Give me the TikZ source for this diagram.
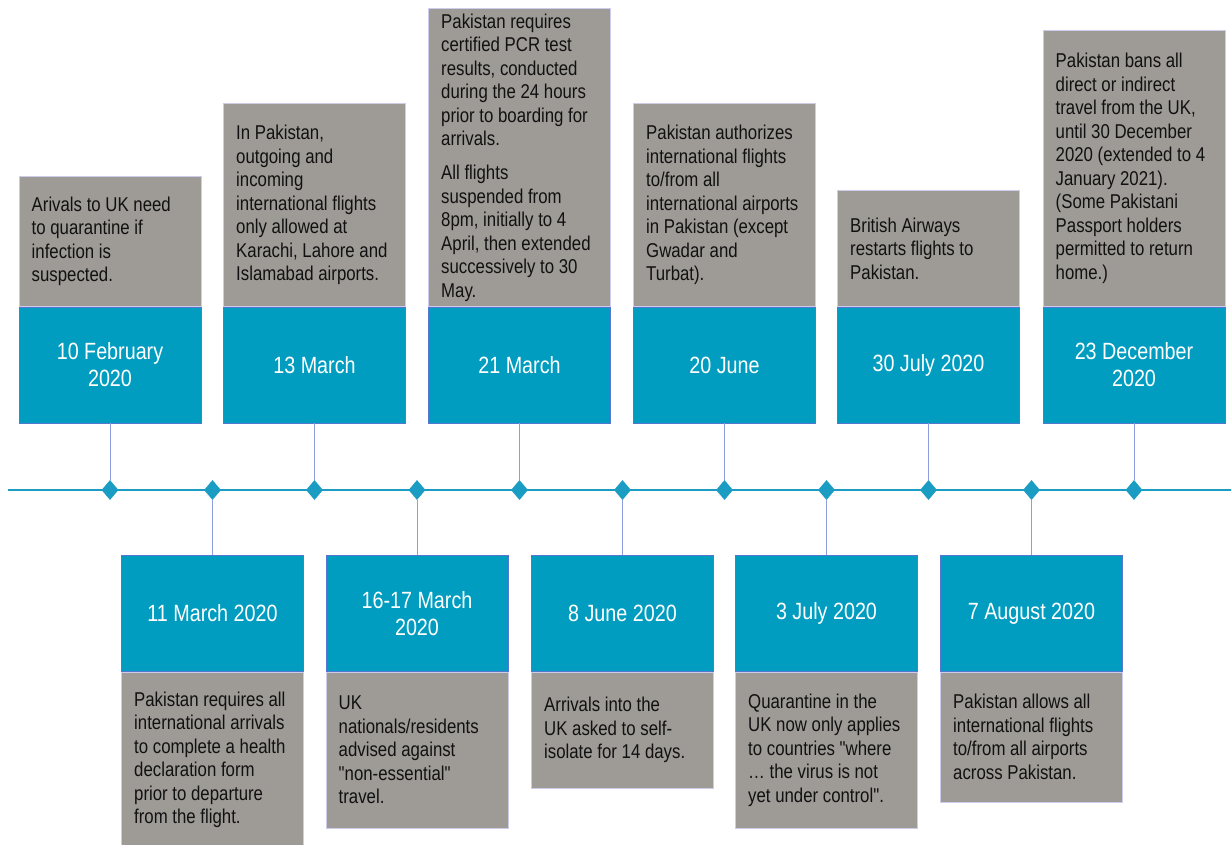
\documentclass[tikz,border=0pt]{standalone}
\usepackage{fontspec}
\setmainfont{Liberation Sans}[FakeStretch=0.84,Ligatures=TeXOff]
\usetikzlibrary{shapes.geometric}
\definecolor{tlblue}{HTML}{009DC0}
\definecolor{tlgrey}{HTML}{9E9B96}
\definecolor{tlline}{HTML}{1A9CC3}
\definecolor{bborder}{HTML}{5577D2}
\definecolor{gborder}{HTML}{CDCDEB}
\definecolor{connc}{HTML}{8C9DE0}
\definecolor{txt}{HTML}{111111}
\tikzset{
  datebox/.style={minimum width=182, minimum height=116, inner sep=0, fill=tlblue, draw=bborder, line width=0.8pt, text=white, align=center, font=\fontsize{23.5}{27}\selectfont},
  infobox/.style={minimum width=182, inner sep=0, fill=tlgrey, draw=gborder, line width=1pt},
  infotext/.style={anchor=west, inner sep=0, align=left, text=txt, font=\fontsize{20}{23.5}\selectfont},
  dia/.style={diamond, fill=tlline, inner sep=0, minimum width=17, minimum height=20},
  conn/.style={draw=connc, line width=1pt},
  tl/.style={draw=tlline, line width=2pt}
}
\begin{document}
\begin{tikzpicture}[x=1pt,y=-1pt]
\useasboundingbox[fill=white] (0,0) rectangle (1231,845);
% timeline
\coordinate (L) at (8,490);
\coordinate (R) at (1231,490);
\draw[tl] (L) -- (R);

% ---------- top events ----------
% A
\node[infobox, minimum height=130, anchor=south] (iA) at (110,307) {};
\node[infotext] (tA) at ([xshift=13]iA.west) {Arivals to UK need\\to quarantine if\\infection is\\suspected.};
\node[datebox] (dA) at (110,365) {10 February\\2020};
\node[dia] (mA) at (110,490) {};
\draw[conn] (dA.south) -- (mA.north);
% B
\node[infobox, minimum height=203, anchor=south] (iB) at (314.5,307) {};
\node[infotext] (tB) at ([xshift=13]iB.west) {In Pakistan,\\outgoing and\\incoming\\international flights\\only allowed at\\Karachi, Lahore and\\Islamabad airports.};
\node[datebox] (dB) at (314.5,365) {13 March};
\node[dia] (mB) at (314.5,490) {};
\draw[conn] (dB.south) -- (mB.north);
% C
\node[infobox, minimum height=298, anchor=south] (iC) at (519.5,307) {};
\node[infotext] (tC) at ([xshift=13]iC.west) {Pakistan requires\\certified PCR test\\results, conducted\\during the 24 hours\\prior to boarding for\\arrivals.\\[10.5pt]All flights\\suspended from\\8pm, initially to 4\\April, then extended\\successively to 30\\May.};
\node[datebox] (dC) at (519.5,365) {21 March};
\node[dia] (mC) at (519.5,490) {};
\draw[conn] (dC.south) -- (mC.north);
% D
\node[infobox, minimum height=203, anchor=south] (iD) at (724.5,307) {};
\node[infotext] (tD) at ([xshift=13]iD.west) {Pakistan authorizes\\international flights\\to/from all\\international airports\\in Pakistan (except\\Gwadar and\\Turbat).};
\node[datebox] (dD) at (724.5,365) {20 June};
\node[dia] (mD) at (724.5,490) {};
\draw[conn] (dD.south) -- (mD.north);
% E
\node[infobox, minimum height=116, anchor=south] (iE) at (928.5,307) {};
\node[infotext] (tE) at ([xshift=13]iE.west) {British Airways\\restarts flights to\\Pakistan.};
\node[datebox] (dE) at (928.5,365) {30 July 2020};
\node[dia] (mE) at (928.5,490) {};
\draw[conn] (dE.south) -- (mE.north);
% F
\node[infobox, minimum height=276, anchor=south] (iF) at (1134,307) {};
\node[infotext] (tF) at ([xshift=13]iF.west) {Pakistan bans all\\direct or indirect\\travel from the UK,\\until 30 December\\2020 (extended to 4\\January 2021).\\(Some Pakistani\\Passport holders\\permitted to return\\home.)};
\node[datebox] (dF) at (1134,365) {23 December\\2020};
\node[dia] (mF) at (1134,490) {};
\draw[conn] (dF.south) -- (mF.north);

% ---------- bottom events ----------
% G
\node[infobox, minimum height=176, anchor=north] (iG) at (212.5,671.5) {};
\node[infotext] (tG) at ([xshift=13]iG.west) {Pakistan requires all\\international arrivals\\to complete a health\\declaration form\\prior to departure\\from the flight.};
\node[datebox] (dG) at (212.5,613.5) {11 March 2020};
\node[dia] (mG) at (212.5,490) {};
\draw[conn] (mG.south) -- (dG.north);
% H
\node[infobox, minimum height=156, anchor=north] (iH) at (417,671.5) {};
\node[infotext] (tH) at ([xshift=13]iH.west) {UK\\nationals/residents\\advised against\\"non-essential"\\travel.};
\node[datebox] (dH) at (417,613.5) {16-17 March\\2020};
\node[dia] (mH) at (417,490) {};
\draw[conn] (mH.south) -- (dH.north);
% I
\node[infobox, minimum height=116, anchor=north] (iI) at (622.5,671.5) {};
\node[infotext] (tI) at ([xshift=13]iI.west) {Arrivals into the\\UK asked to self-\\isolate for 14 days.};
\node[datebox] (dI) at (622.5,613.5) {8 June 2020};
\node[dia] (mI) at (622.5,490) {};
\draw[conn] (mI.south) -- (dI.north);
% J
\node[infobox, minimum height=156, anchor=north] (iJ) at (826.5,671.5) {};
\node[infotext] (tJ) at ([xshift=13]iJ.west) {Quarantine in the\\UK now only applies\\to countries "where\\… the virus is not\\yet under control".};
\node[datebox] (dJ) at (826.5,613.5) {3 July 2020};
\node[dia] (mJ) at (826.5,490) {};
\draw[conn] (mJ.south) -- (dJ.north);
% K
\node[infobox, minimum height=130, anchor=north] (iK) at (1031.5,671.5) {};
\node[infotext] (tK) at ([xshift=13]iK.west) {Pakistan allows all\\international flights\\to/from all airports\\across Pakistan.};
\node[datebox] (dK) at (1031.5,613.5) {7 August 2020};
\node[dia] (mK) at (1031.5,490) {};
\draw[conn] (mK.south) -- (dK.north);
\end{tikzpicture}
\end{document}
